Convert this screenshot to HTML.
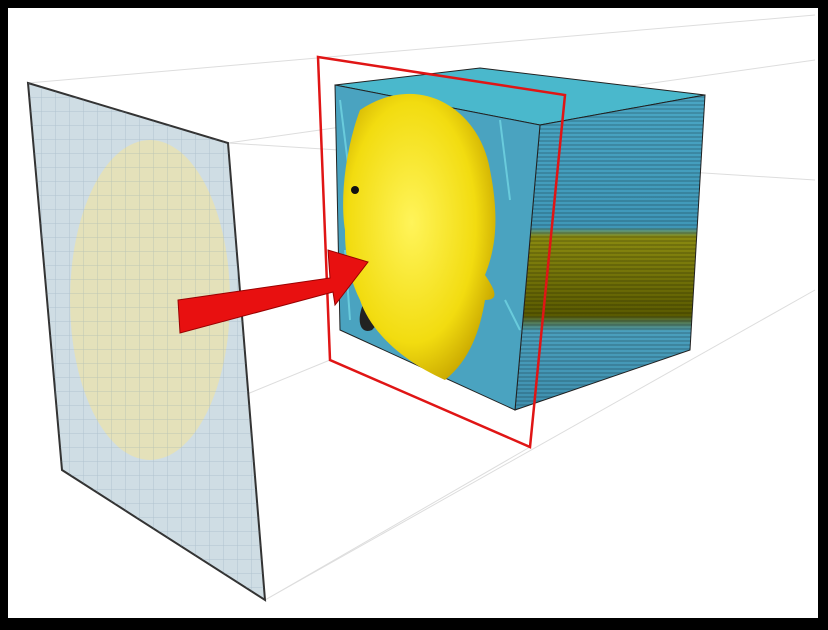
<!DOCTYPE html>
<html><head><meta charset="utf-8"><style>
html,body{margin:0;padding:0;background:#000;}
svg{display:block;}
</style></head><body>
<svg width="828" height="630" viewBox="0 0 828 630" xmlns="http://www.w3.org/2000/svg">
<defs>
<linearGradient id="side" x1="0" y1="0" x2="0" y2="1">
<stop offset="0" stop-color="#4aa6c4"/><stop offset="0.42" stop-color="#3f97b8"/>
<stop offset="0.45" stop-color="#8a8a10"/><stop offset="0.7" stop-color="#5a5a00"/>
<stop offset="0.75" stop-color="#4a9fbd"/><stop offset="1" stop-color="#3e8fae"/></linearGradient>
<pattern id="stripes" width="6" height="4" patternUnits="userSpaceOnUse"><rect width="6" height="2" fill="rgba(0,0,0,0.15)"/></pattern>
<pattern id="grid" width="14" height="14" patternUnits="userSpaceOnUse"><path d="M14 0V14H0" fill="none" stroke="rgba(120,150,170,0.35)" stroke-width="1"/></pattern>
<radialGradient id="fishg" cx="0.45" cy="0.45" r="0.6"><stop offset="0" stop-color="#fff45a"/><stop offset="0.7" stop-color="#f2dc10"/><stop offset="1" stop-color="#c9a800"/></radialGradient>
</defs>
<rect x="8" y="8" width="810" height="610" fill="#fff"/>
<g stroke="#ddd" stroke-width="1" fill="none">
<line x1="28" y1="83" x2="815" y2="15"/><line x1="228" y1="143" x2="815" y2="60"/>
<line x1="265" y1="600" x2="815" y2="290"/><line x1="228" y1="143" x2="815" y2="180"/>
<line x1="62" y1="470" x2="330" y2="360"/><line x1="265" y1="600" x2="530" y2="447"/>
</g>
<polygon points="28,83 228,143 265,600 62,470" fill="#cfdde4" stroke="#333" stroke-width="2"/>
<ellipse cx="150" cy="300" rx="80" ry="160" fill="#ece2a8" opacity="0.7"/>
<polygon points="28,83 228,143 265,600 62,470" fill="url(#grid)"/>
<polygon points="335,85 480,68 705,95 540,125" fill="#4ab8cc" stroke="#222"/>
<polygon points="540,125 705,95 690,350 515,410" fill="url(#side)" stroke="#222"/>
<polygon points="540,125 705,95 690,350 515,410" fill="url(#stripes)"/>
<polygon points="335,85 540,125 515,410 340,330" fill="#4aa3c0" stroke="#222"/>
<g stroke="#7fe6ee" stroke-width="2" opacity="0.6" fill="none"><path d="M340,100 L350,180 M500,120 L510,200 M345,250 L350,320 M505,300 L520,330"/></g>
<path d="M365,300 C355,320 360,335 372,330 L390,310 Z" fill="#222"/>
<path d="M360,110 C420,70 480,110 490,170 C500,220 495,250 485,275 C495,290 500,300 485,300 C480,330 470,360 445,380 C400,360 370,330 360,300 C345,270 345,240 345,230 C340,200 345,150 360,110 Z" fill="url(#fishg)"/>
<circle cx="355" cy="190" r="4" fill="#111"/>
<polygon points="318,57 565,95 530,447 330,360" fill="none" stroke="#e01515" stroke-width="2.5"/>
<polygon points="178,300 330,278 328,250 368,262 335,305 333,292 180,333" fill="#e81010" stroke="#900" stroke-width="1"/>
</svg>
</body></html>
